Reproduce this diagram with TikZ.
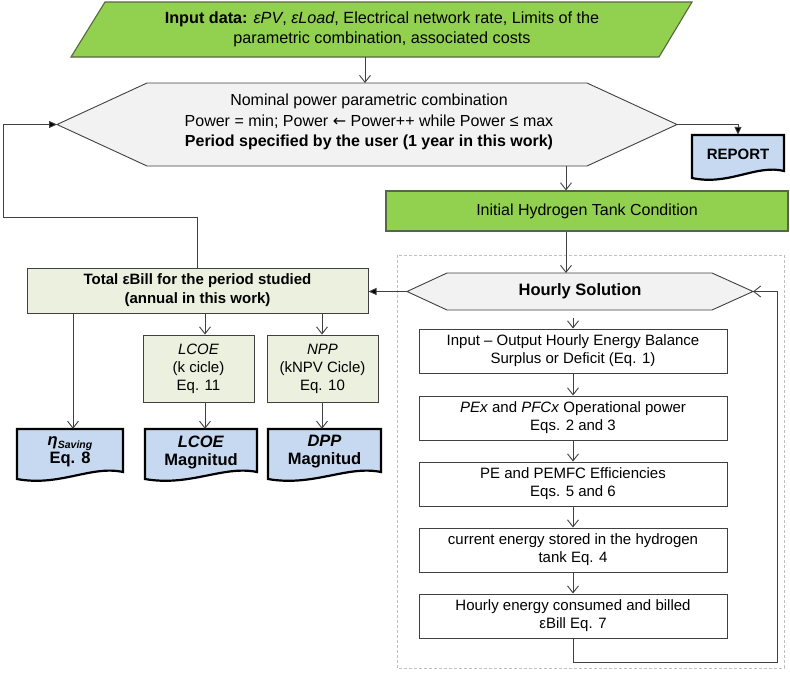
\documentclass[tikz,border=0pt]{standalone}
\usepackage{fontspec}
\setmainfont{Liberation Sans}
\newfontfamily\symfont{DejaVu Sans}
\usetikzlibrary{arrows.meta,calc}
\definecolor{cgreen}{HTML}{92D050}
\definecolor{cgreenb}{HTML}{56683F}
\definecolor{chex}{HTML}{F2F2F2}
\definecolor{colive}{HTML}{EBF1DE}
\definecolor{cblue}{HTML}{C6D9F1}
\definecolor{cline}{HTML}{404040}
\definecolor{cdash}{HTML}{BFBFBF}
\newcommand\docpath[4]{%
  \draw[docb] (#1,#3) -- (#2,#3) -- (#2,#4-7)
    .. controls ({#2-0.3*(#2-#1)},#4-14) and ({#1+0.4*(#2-#1)},#4+8) .. (#1,#4) -- cycle;}
\begin{document}
\begin{tikzpicture}[x=1pt,y=-1pt,
  txt/.style={draw=none, align=center, inner sep=0pt, font=\fontsize{15}{18}\selectfont},
  wbox/.style={draw=cline, fill=white, line width=1pt, minimum width=308pt, minimum height=44pt,
     align=center, inner sep=0pt, font=\fontsize{15}{18}\selectfont},
  obox/.style={draw=cline, fill=colive, line width=1pt, align=center, inner sep=0pt,
     font=\fontsize{15}{18}\selectfont},
  shapeb/.style={draw=cline, fill=chex, line width=0.9pt},
  greenb/.style={draw=cgreenb, fill=cgreen, line width=1.1pt},
  docb/.style={draw=black, fill=cblue, line width=2.2pt, line join=miter},
  arr/.style={draw=cline, line width=0.9pt, -{Straight Barb[length=7pt,width=11pt]}},
  farr/.style={draw=cline, line width=0.9pt, -{Triangle[length=8pt,width=7pt,fill=black]}},
  frame/.style={draw=cdash, line width=0.9pt, dash pattern=on 3pt off 2pt}
]
\useasboundingbox (0,0) rectangle (790,678);

% input parallelogram
\draw[greenb] (105,2) -- (692,2) -- (659,57) -- (71,57) -- cycle;
\node[txt, minimum width=560pt, minimum height=55pt, font=\fontsize{16.2}{20}\selectfont]
  (input) at (382,29.5)
  {\textbf{Input data:} \textit{εPV}, \textit{εLoad}, Electrical network rate, Limits of the\\
   parametric combination, associated costs};

% main hexagon
\coordinate (hexL) at (57,124.5);
\coordinate (hexR) at (677,124.5);
\coordinate (hexT) at (365,83);
\coordinate (hexB) at (566,166);
\draw[shapeb] (147,83) -- (587,83) -- (hexR) -- (587,166) -- (147,166) -- (hexL) -- cycle;
\node[txt, font=\fontsize{16}{20.5}\selectfont] (hex) at (369,122)
  {Nominal power parametric combination\\
   Power = min; Power {\symfont ←} Power++ while Power ≤ max\\
   \textbf{Period specified by the user (1 year in this work)}};

% report
\docpath{692}{784}{135}{178}
\node[txt, minimum width=92pt, minimum height=38pt, font=\fontsize{15}{18}\selectfont\bfseries]
  (report) at (738,154) {REPORT};

% initial tank
\node[greenb, minimum width=402pt, minimum height=40pt, inner sep=0pt,
  font=\fontsize{16}{19}\selectfont] (init) at (587,211) {Initial Hydrogen Tank Condition};

% dashed frame
\draw[frame] (397,255) rectangle (784,668);

% hourly hexagon
\coordinate (hL) at (407,291.5);
\coordinate (hR) at (753,291.5);
\coordinate (hT) at (566,273);
\draw[shapeb] (447,273) -- (712,273) -- (hR) -- (712,310) -- (447,310) -- (hL) -- cycle;
\node[txt, font=\fontsize{16.5}{19}\selectfont\bfseries] (hourly) at (580,291.5) {Hourly Solution};

% right column boxes
\node[wbox] (b1) at (573,351) {Input – Output Hourly Energy Balance\\Surplus or Deficit (Eq. 1)};
\node[wbox] (b2) at (573,418) {\textit{PEx} and \textit{PFCx} Operational power\\Eqs. 2 and 3};
\node[wbox] (b3) at (573,484) {PE and PEMFC Efficiencies\\Eqs. 5 and 6};
\node[wbox] (b4) at (573,550) {current energy stored in the hydrogen\\tank Eq. 4};
\node[wbox] (b5) at (573,616) {Hourly energy consumed and billed\\εBill Eq. 7};

% left side
\node[obox, minimum width=341pt, minimum height=45pt, font=\fontsize{15}{19}\selectfont\bfseries]
  (total) at (197.5,290.5) {Total εBill for the period studied\\(annual in this work)};
\node[obox, minimum width=111pt, minimum height=67pt] (lcoe) at (198.5,368.5)
  {\textit{LCOE}\\(k cicle)\\Eq. 11};
\node[obox, minimum width=111pt, minimum height=67pt] (npp) at (322.5,368.5)
  {\textit{NPP}\\(kNPV Cicle)\\Eq. 10};

\docpath{17}{123}{429}{479}
\node[txt, minimum width=106pt, minimum height=46pt, font=\fontsize{16.5}{18}\selectfont\bfseries]
  (eta) at (70,452)
  {\textit{η}\raisebox{-2.5pt}{\fontsize{10.5}{12}\selectfont\bfseries\itshape Saving}\\Eq. 8};
\docpath{145}{257}{429}{479}
\node[txt, minimum width=112pt, minimum height=46pt, font=\fontsize{16.5}{18}\selectfont\bfseries]
  (lcoem) at (201,452) {\textit{LCOE}\\Magnitud};
\docpath{268}{381}{429}{479}
\node[txt, minimum width=113pt, minimum height=46pt, font=\fontsize{16.5}{18}\selectfont\bfseries]
  (dpp) at (324.5,452) {\textit{DPP}\\Magnitud};

% connectors
\draw[arr] (input.south -| hexT) -- (hexT);
\draw[farr] (hexR) -| (report.north);
\draw[arr] (hexB) -- (hexB |- init.north);
\draw[arr] (init.south -| hT) -- (hT);
\draw[arr] (hourly.south -| b1.north) ++(0,18.5) -- (b1.north);
\draw[arr] (b1.south) -- (b2.north);
\draw[arr] (b2.south) -- (b3.north);
\draw[arr] (b3.south) -- (b4.north);
\draw[arr] (b4.south) -- (b5.north);
\coordinate (loopA) at (573,662);
\coordinate (loopB) at (777,662);
\draw[arr] (b5.south) -- (loopA) -- (loopB) |- (hR);
\draw[farr] (hL) -- (hL -| total.east);
\coordinate (lc) at (3,217);
\draw[farr] (total.north) |- (lc) |- (hexL);
\draw[arr] (total.south -| 205,0) -- (lcoe.north -| 205,0);
\draw[arr] (total.south -| 322,0) -- (npp.north -| 322,0);
\draw[arr] (total.south -| 73,0) -- (eta.north -| 73,0);
\draw[arr] (lcoe.south -| 205,0) -- (lcoem.north -| 205,0);
\draw[arr] (npp.south -| 322,0) -- (dpp.north -| 322,0);
\end{tikzpicture}
\end{document}
